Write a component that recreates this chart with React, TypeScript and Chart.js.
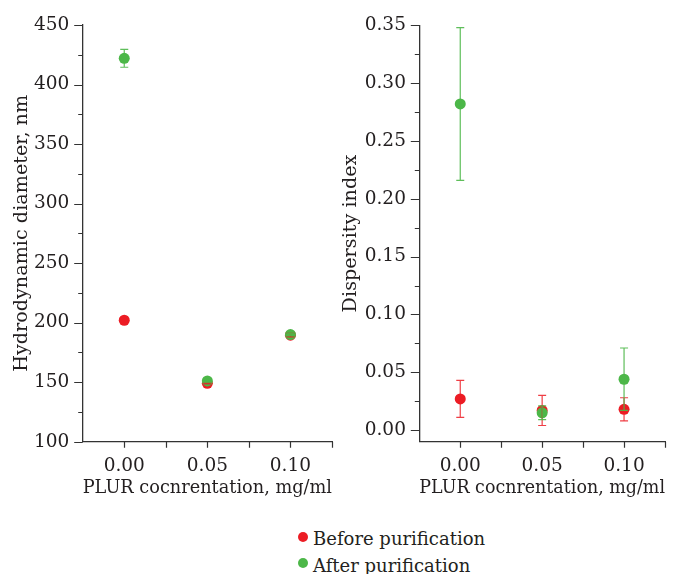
import React, { useEffect, useRef } from 'react';
import { Chart, registerables } from 'chart.js';

Chart.register(...registerables);

// ---- data ----
const concentrations = [0, 0.05, 0.1];
const xTickValues = [0, 0.025, 0.05, 0.075, 0.1, 0.125];
const xLabelValues = [0, 0.05, 0.1];

const diameterBefore = [202, 149, 189.5];
const diameterBeforeErr = [0, 0.5, 1.5];
const diameterAfter = [422, 151, 190];
const diameterAfterErr = [7.5, 1, 1];
const diameterTicks = [100, 125, 150, 175, 200, 225, 250, 275, 300, 325, 350, 375, 400, 425, 450];
const diameterLabels = [100, 150, 200, 250, 300, 350, 400, 450];

const pdiBefore = [0.027, 0.017, 0.018];
const pdiBeforeErr = [0.016, 0.013, 0.01];
const pdiAfter = [0.282, 0.015, 0.044];
const pdiAfterErr = [0.066, 0.006, 0.027];
const pdiTicks = [0, 0.025, 0.05, 0.075, 0.1, 0.125, 0.15, 0.175, 0.2, 0.225, 0.25, 0.275, 0.3, 0.325, 0.35];
const pdiLabels = [0, 0.05, 0.1, 0.15, 0.2, 0.25, 0.3, 0.35];

const seriesNames = ['Before purification', 'After purification'];
const seriesColors = ['#ec1c24', '#4cb748'];
const errorColors = ['rgba(236,28,36,0.85)', 'rgba(76,183,72,0.9)'];

const xTitle = 'PLUR cocnrentation, mg/ml';
const diameterTitle = 'Hydrodynamic diameter, nm';
const pdiTitle = 'Dispersity index';

const FONT = 'DejaVu Serif';
const FONT_SIZE = 18.5;
const TITLE_SIZE = 19.2;
const TEXT = '#231f20';
const AXIS = '#333333';

const has = (arr: number[], v: number) => arr.some((a) => Math.abs(a - v) < 1e-9);

const axisDecor = {
  id: 'axisDecor',
  afterDatasetsDraw(chart: any, _args: any, opts: any) {
    const { ctx, chartArea } = chart;
    const xs = chart.scales.x;
    const ys = chart.scales.y;
    ctx.save();
    // error bars
    chart.data.datasets.forEach((ds: any, i: number) => {
      const errs: number[] = ds.errors || [];
      ctx.strokeStyle = errorColors[i];
      ctx.lineWidth = 1.2;
      ds.data.forEach((pt: any, j: number) => {
        const e = errs[j];
        if (!e) return;
        const px = xs.getPixelForValue(pt.x);
        const top = ys.getPixelForValue(pt.y + e);
        const bot = ys.getPixelForValue(pt.y - e);
        ctx.beginPath();
        ctx.moveTo(px, top);
        ctx.lineTo(px, bot);
        ctx.moveTo(px - 4, top);
        ctx.lineTo(px + 4, top);
        ctx.moveTo(px - 4, bot);
        ctx.lineTo(px + 4, bot);
        ctx.stroke();
      });
    });
    // tick marks
    ctx.strokeStyle = AXIS;
    ctx.lineWidth = 1.2;
    ctx.beginPath();
    (opts.yTicks as number[]).forEach((v) => {
      const py = Math.round(ys.getPixelForValue(v)) + 0.5;
      const len = has(opts.yLabels, v) ? 8.5 : 4.5;
      ctx.moveTo(chartArea.left - len, py);
      ctx.lineTo(chartArea.left, py);
    });
    xTickValues.forEach((v) => {
      const px = Math.round(xs.getPixelForValue(v)) + 0.5;
      ctx.moveTo(px, chartArea.bottom);
      ctx.lineTo(px, chartArea.bottom + 6);
    });
    ctx.stroke();
    ctx.restore();
  },
};

type PanelSpec = {
  before: number[];
  beforeErr: number[];
  after: number[];
  afterErr: number[];
  yMin: number;
  yMax: number;
  yTicks: number[];
  yLabels: number[];
  yFormat: (v: number) => string;
  yTitle: string;
  yWidth: number;
  yTitlePad: number;
  padTop: number;
  padRight: number;
  xHeight: number;
};

function buildConfig(p: PanelSpec): any {
  const font = { family: FONT, size: FONT_SIZE };
  const titleFont = { family: FONT, size: TITLE_SIZE };
  return {
    type: 'scatter',
    data: {
      datasets: [
        {
          label: seriesNames[0],
          data: concentrations.map((c, i) => ({ x: c, y: p.before[i] })),
          errors: p.beforeErr,
          backgroundColor: seriesColors[0],
          pointBackgroundColor: seriesColors[0],
          pointBorderWidth: 0,
          pointRadius: 5.5,
          order: 1,
        },
        {
          label: seriesNames[1],
          data: concentrations.map((c, i) => ({ x: c, y: p.after[i] })),
          errors: p.afterErr,
          backgroundColor: seriesColors[1],
          pointBackgroundColor: seriesColors[1],
          pointBorderWidth: 0,
          pointRadius: 5.5,
          order: 0,
        },
      ],
    },
    options: {
      responsive: false,
      animation: false,
      events: [],
      layout: { padding: { top: p.padTop, right: p.padRight, bottom: 0, left: 0 } },
      plugins: {
        legend: { display: false },
        tooltip: { enabled: false },
        axisDecor: { yTicks: p.yTicks, yLabels: p.yLabels },
      },
      scales: {
        x: {
          type: 'linear',
          min: -0.025,
          max: 0.125,
          afterBuildTicks: (s: any) => {
            s.ticks = xTickValues.map((v) => ({ value: v }));
          },
          afterFit: (s: any) => {
            s.height = p.xHeight;
          },
          grid: { display: false, drawTicks: false, tickLength: 0 },
          border: { display: true, color: AXIS, width: 1.3 },
          ticks: {
            autoSkip: false,
            maxRotation: 0,
            minRotation: 0,
            padding: 13,
            color: TEXT,
            font,
            callback: (v: number) => (has(xLabelValues, v) ? v.toFixed(2) : ''),
          },
          title: {
            display: true,
            text: xTitle,
            color: TEXT,
            font: titleFont,
            padding: { top: 0, bottom: 10 },
          },
        },
        y: {
          type: 'linear',
          min: p.yMin,
          max: p.yMax,
          afterBuildTicks: (s: any) => {
            s.ticks = p.yTicks.map((v) => ({ value: v }));
          },
          afterFit: (s: any) => {
            s.width = p.yWidth;
          },
          grid: { display: false, drawTicks: false, tickLength: 0 },
          border: { display: true, color: AXIS, width: 1.3 },
          ticks: {
            autoSkip: false,
            padding: 13.4,
            color: TEXT,
            font,
            callback: (v: number) => (has(p.yLabels, v) ? p.yFormat(v) : ''),
          },
          title: {
            display: true,
            text: p.yTitle,
            color: TEXT,
            font: titleFont,
            padding: { top: p.yTitlePad, bottom: 0 },
          },
        },
      },
    },
    plugins: [axisDecor],
  };
}

const leftSpec: PanelSpec = {
  before: diameterBefore,
  beforeErr: diameterBeforeErr,
  after: diameterAfter,
  afterErr: diameterAfterErr,
  yMin: 100,
  yMax: 450,
  yTicks: diameterTicks,
  yLabels: diameterLabels,
  yFormat: (v) => String(v),
  yTitle: diameterTitle,
  yWidth: 82.7,
  yTitlePad: 10.5,
  padTop: 25,
  padRight: 9,
  xHeight: 68.3,
};

const rightSpec: PanelSpec = {
  before: pdiBefore,
  beforeErr: pdiBeforeErr,
  after: pdiAfter,
  afterErr: pdiAfterErr,
  yMin: -0.01,
  yMax: 0.35,
  yTicks: pdiTicks,
  yLabels: pdiLabels,
  yFormat: (v) => v.toFixed(2),
  yTitle: pdiTitle,
  yWidth: 89.3,
  yTitlePad: 9.5,
  padTop: 25.3,
  padRight: 5.7,
  xHeight: 68.3,
};

export default function App() {
  const leftRef = useRef<HTMLCanvasElement>(null);
  const rightRef = useRef<HTMLCanvasElement>(null);

  useEffect(() => {
    const c1 = new Chart(leftRef.current as HTMLCanvasElement, buildConfig(leftSpec));
    const c2 = new Chart(rightRef.current as HTMLCanvasElement, buildConfig(rightSpec));
    return () => {
      c1.destroy();
      c2.destroy();
    };
  }, []);

  const legendText: React.CSSProperties = {
    position: 'absolute',
    left: 313,
    fontFamily: FONT,
    fontSize: 18,
    lineHeight: '22px',
    color: TEXT,
    whiteSpace: 'nowrap',
  };
  const dot = (color: string, cy: number): React.CSSProperties => ({
    position: 'absolute',
    left: 298,
    top: cy - 5,
    width: 10,
    height: 10,
    borderRadius: '50%',
    background: color,
  });

  return (
    <div
      style={{
        position: 'fixed',
        left: 0,
        top: 0,
        width: 678,
        height: 574,
        background: '#ffffff',
        overflow: 'hidden',
      }}
    >
      <canvas
        ref={leftRef}
        width={345}
        height={510}
        style={{ position: 'absolute', left: 0, top: 0, width: 345, height: 510 }}
      />
      <canvas
        ref={rightRef}
        width={348}
        height={510}
        style={{ position: 'absolute', left: 330, top: 0, width: 348, height: 510 }}
      />
      <div style={dot(seriesColors[0], 537)} />
      <div style={{ ...legendText, top: 528 }}>{seriesNames[0]}</div>
      <div style={dot(seriesColors[1], 563)} />
      <div style={{ ...legendText, top: 554.5 }}>{seriesNames[1]}</div>
    </div>
  );
}
